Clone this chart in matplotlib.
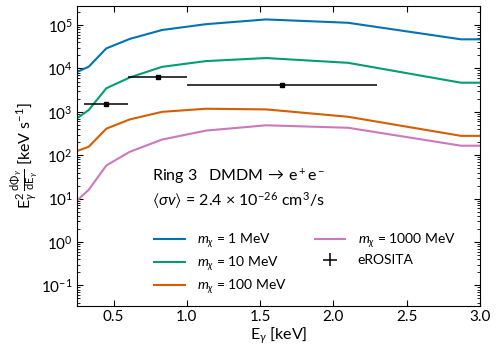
import matplotlib
matplotlib.use("Agg")
import matplotlib.pyplot as plt
import numpy as np

plt.rcParams["font.family"] = ["Lato", "DejaVu Sans"]
plt.rcParams["mathtext.fontset"] = "custom"
plt.rcParams["mathtext.rm"] = "Lato"
plt.rcParams["mathtext.it"] = "Lato:italic"
plt.rcParams["mathtext.bf"] = "Lato:bold"
plt.rcParams["mathtext.fallback"] = "stixsans"

# energy grid (keV) and spectra for each DM mass
energy = [0.25, 0.33, 0.45, 0.61, 0.83, 1.13, 1.54, 2.10, 2.87, 3.0]
flux_1 = [8.3e3, 1.1e4, 2.9e4, 4.8e4, 7.7e4, 1.05e5, 1.35e5, 1.13e5, 4.7e4, 4.7e4]
flux_10 = [7.1e2, 1.1e3, 3.5e3, 6.2e3, 1.09e4, 1.48e4, 1.74e4, 1.35e4, 4.7e3, 4.7e3]
flux_100 = [1.25e2, 1.57e2, 4.1e2, 6.7e2, 1.0e3, 1.18e3, 1.14e3, 7.7e2, 2.8e2, 2.8e2]
flux_1000 = [9.0, 16, 58, 1.2e2, 2.3e2, 3.7e2, 4.9e2, 4.3e2, 1.66e2, 1.66e2]
masses = [1, 10, 100, 1000]
colors = ["#0173B2", "#029E73", "#D55E00", "#CC78BC"]

# eROSITA data
ero_x = [0.45, 0.8, 1.65]
ero_xerr = [0.15, 0.2, 0.65]
ero_y = [1.55e3, 6.3e3, 4.2e3]

fig = plt.figure(figsize=(4.98, 3.53), dpi=100)
ax = fig.add_axes([0.1546, 0.1331, 0.8093, 0.8499])

for m, f, c in zip(masses, [flux_1, flux_10, flux_100, flux_1000], colors):
    ax.plot(energy, f, color=c, lw=1.5, label=rf"$m_\chi$ = {m} MeV")

# error bars (zero y error so the legend shows a cross), markers drawn separately
ax.errorbar(ero_x, ero_y, xerr=ero_xerr, yerr=[0.0, 0.0, 0.0], fmt="none",
            ecolor="black", elinewidth=1.1, label="eROSITA")
ax.plot(ero_x, ero_y, "s", ms=2.5, color="black")

ax.set_yscale("log")
ax.set_xlim(0.25, 3.0)
ax.set_ylim(10**-1.475, 10**5.44)
ax.set_xticks([0.5, 1.0, 1.5, 2.0, 2.5, 3.0])
ax.set_yticks([1e-1, 1e0, 1e1, 1e2, 1e3, 1e4, 1e5])
ax.tick_params(which="both", direction="in", top=True, right=True, labelsize=11, pad=3)
ax.tick_params(which="major", length=4)
ax.tick_params(which="minor", length=2)
ax.tick_params(axis="x", which="minor", bottom=False, top=False)

ax.set_xlabel(r"E$_\gamma$ [keV]", fontsize=11.5, labelpad=1)
ax.set_ylabel(r"$\mathrm{E}_\gamma^2\,\frac{\mathrm{d}\Phi_\gamma}{\mathrm{d}\mathrm{E}_\gamma}$ [keV s$^{-1}$]",
              fontsize=11.5, labelpad=1)

ax.text(0.186, 0.432, r"Ring 3   DMDM$\,\rightarrow\,$e$^+$e$^-$", transform=ax.transAxes,
        fontsize=11.5, va="center")
ax.text(0.186, 0.35, r"$\langle\sigma v\rangle$ = 2.4 × 10$^{-26}$ cm$^3$/s",
        transform=ax.transAxes, fontsize=11.5, va="center")

ax.legend(ncol=2, frameon=False, fontsize=10, loc="upper left",
          bbox_to_anchor=(0.16, 0.29), handlelength=2.2, handletextpad=0.9,
          columnspacing=2.0, labelspacing=0.3)

fig.savefig("out.png", dpi=100)
